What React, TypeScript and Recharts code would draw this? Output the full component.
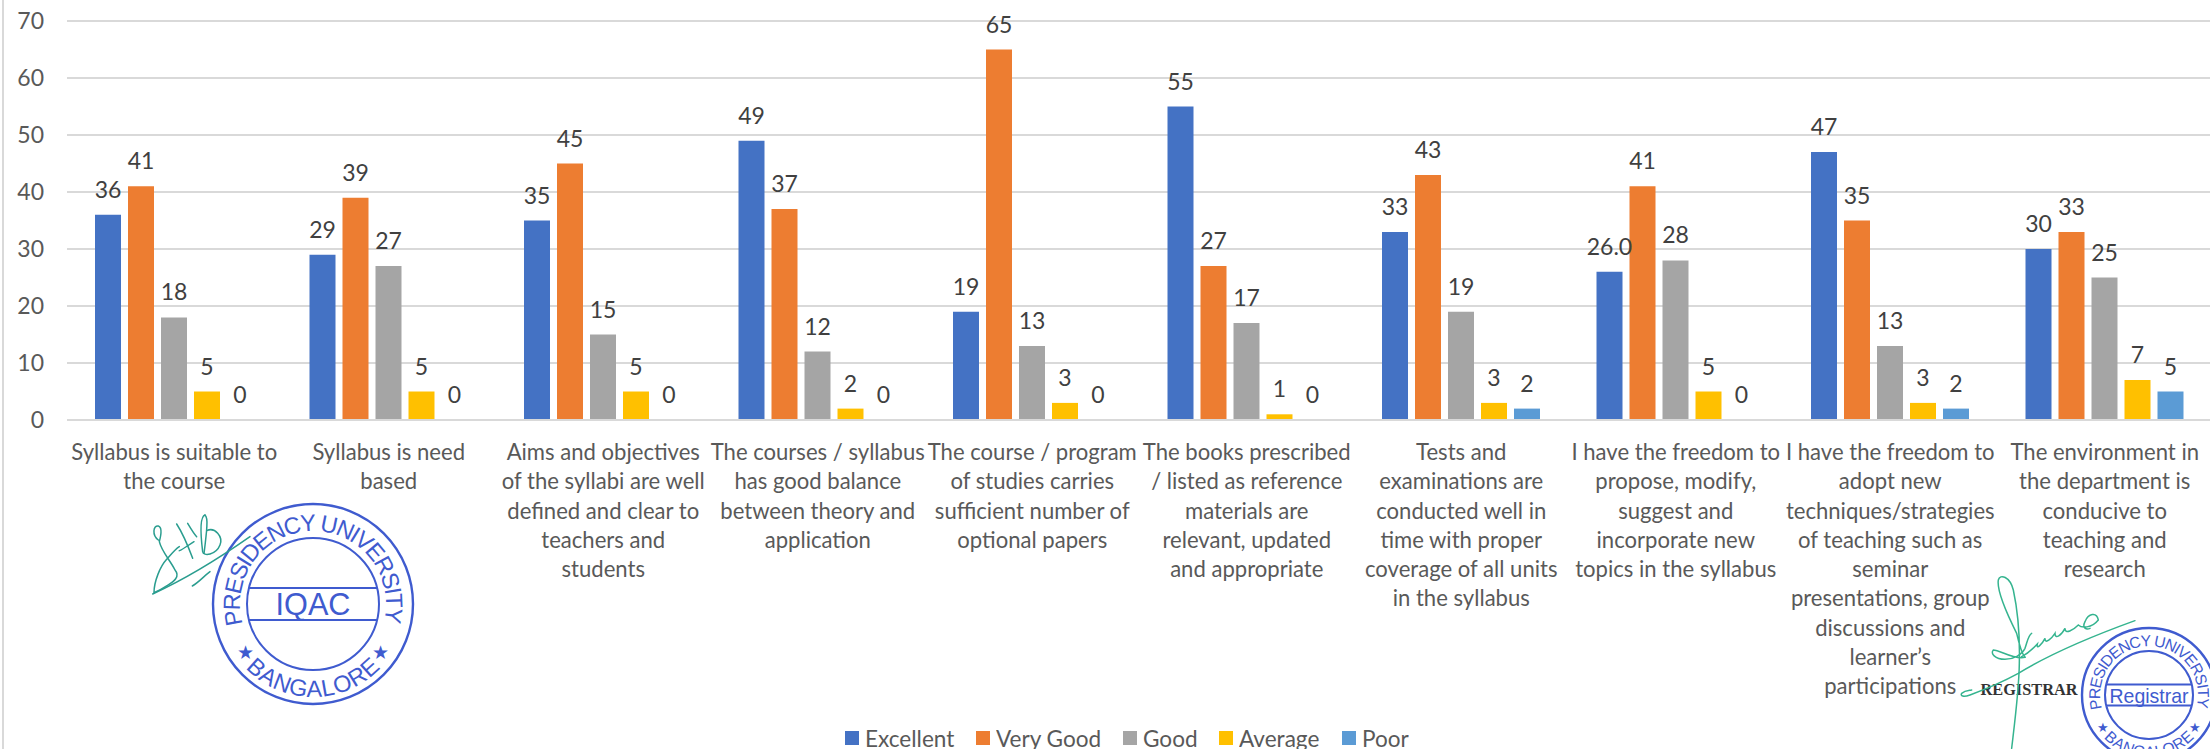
import React from "react";
import { BarChart, Bar, XAxis, YAxis, CartesianGrid, LabelList, Legend } from "recharts";

const categoryLines: string[][] = [
  ["Syllabus is suitable to", "the course"],
  ["Syllabus is need", "based"],
  ["Aims and objectives", "of the syllabi are well", "defined and clear to", "teachers and", "students"],
  ["The courses / syllabus", "has good balance", "between theory and", "application"],
  ["The course / program", "of studies carries", "sufficient number of", "optional papers"],
  ["The books prescribed", "/ listed as reference", "materials are", "relevant, updated", "and appropriate"],
  ["Tests and", "examinations are", "conducted well in", "time with proper", "coverage of all units", "in the syllabus"],
  ["I have the freedom to", "propose, modify,", "suggest and", "incorporate new", "topics in the syllabus"],
  ["I have the freedom to", "adopt new", "techniques/strategies", "of teaching such as", "seminar", "presentations, group", "discussions and", "learner\u2019s", "participations"],
  ["The environment in", "the department is", "conducive to", "teaching and", "research"],
];
const excellent = [36, 29, 35, 49, 19, 55, 33, 26, 47, 30];
const veryGood = [41, 39, 45, 37, 65, 27, 43, 41, 35, 33];
const good = [18, 27, 15, 12, 13, 17, 19, 28, 13, 25];
const average = [5, 5, 5, 2, 3, 1, 3, 5, 3, 7];
const poor = [0, 0, 0, 0, 0, 0, 2, 0, 2, 5];
const excellentLabels = ["36", "29", "35", "49", "19", "55", "33", "26.0", "47", "30"];
const yTicks = [0, 10, 20, 30, 40, 50, 60, 70];
const seriesNames = ["Excellent", "Very Good", "Good", "Average", "Poor"];
const seriesKeys = ["excellent", "veryGood", "good", "average", "poor"];
const seriesValues = [excellent, veryGood, good, average, poor];
const seriesColors = ["#4472c4", "#ed7d31", "#a5a5a5", "#ffc000", "#5b9bd5"];
const legendWidths = [131, 147, 96, 123, 80];

const data = categoryLines.map((lines, i) => {
  const row: any = { name: lines.join(" ") };
  seriesKeys.forEach((k, s) => {
    row[k] = seriesValues[s][i];
    row[k + "Label"] = k === "excellent" ? excellentLabels[i] : String(seriesValues[s][i]);
  });
  return row;
});

const FONT = "Lato, 'Open Sans', sans-serif";
const TEXT = "#595959";
const STAMP = "#3f5bcf";
const FX = 0.94;

function CategoryTick(props: any) {
  const { x, y, index } = props;
  const lines = categoryLines[index] || [];
  return (
    <g transform={`translate(${x},${y}) scale(${FX},1)`}>
      {lines.map((l, i) => (
        <text key={i} x={0} y={38 + i * 29.3} textAnchor="middle" fontFamily={FONT} fontSize={23.5} fill={TEXT}>
          {l}
        </text>
      ))}
    </g>
  );
}

function LegendRow() {
  return (
    <div style={{ position: "absolute", left: 845, top: 724, height: 0, display: "flex", fontFamily: FONT, fontSize: 24, color: TEXT, whiteSpace: "nowrap" }}>
      {seriesNames.map((n, i) => (
        <div key={n} style={{ display: "flex", alignItems: "flex-start", width: legendWidths[i] }}>
          <span style={{ width: 14, height: 14, marginTop: 7, marginRight: 6, background: seriesColors[i], display: "inline-block", flex: "none" }} />
          <span style={{ display: "inline-block", lineHeight: "28px", transform: `scaleX(${FX})`, transformOrigin: "left" }}>{n}</span>
        </div>
      ))}
    </div>
  );
}

function Stamp({ id, cx, cy, r, inner, bandH, label, labelSize, labelLen }: any) {
  const tr = r * 0.73;
  const br = r * 0.93;
  const a = (106 * Math.PI) / 180;
  const c = 2.33;
  const sx = (rad: number, ang: number) => cx + rad * Math.sin(ang);
  const sy = (rad: number, ang: number) => cy - rad * Math.cos(ang);
  const hw = Math.sqrt(inner * inner - (bandH / 2) * (bandH / 2));
  return (
    <g fill="none" stroke={STAMP}>
      <defs>
        <path id={id + "t"} d={`M${sx(tr, -a)} ${sy(tr, -a)} A${tr} ${tr} 0 1 1 ${sx(tr, a)} ${sy(tr, a)}`} />
        <path id={id + "b"} d={`M${sx(br, -c)} ${sy(br, -c)} A${br} ${br} 0 0 0 ${sx(br, c)} ${sy(br, c)}`} />
      </defs>
      <circle cx={cx} cy={cy} r={r} strokeWidth={2.4} />
      <circle cx={cx} cy={cy} r={inner} strokeWidth={2} />
      <line x1={cx - hw} x2={cx + hw} y1={cy - bandH / 2} y2={cy - bandH / 2} strokeWidth={1.8} />
      <line x1={cx - hw} x2={cx + hw} y1={cy + bandH / 2} y2={cy + bandH / 2} strokeWidth={1.8} />
      <g fill={STAMP} stroke="none" fontFamily="'Liberation Sans', Arial, sans-serif">
        <text fontSize={r * 0.235}>
          <textPath href={`#${id}t`} textLength={2 * a * tr * 0.99} lengthAdjust="spacing">PRESIDENCY UNIVERSITY</textPath>
        </text>
        <text fontSize={r * 0.235}>
          <textPath href={`#${id}b`} textLength={(2 * Math.PI - 2 * c) * br} lengthAdjust="spacing">BANGALORE</textPath>
        </text>
        <text x={cx} y={cy + labelSize * 0.36} fontSize={labelSize} textAnchor="middle" textLength={labelLen} lengthAdjust="spacingAndGlyphs">{label}</text>
        <text x={sx(r * 0.84, -2.2)} y={sy(r * 0.84, -2.2) + r * 0.06} fontSize={r * 0.19} textAnchor="middle">{"\u2605"}</text>
        <text x={sx(r * 0.84, 2.2)} y={sy(r * 0.84, 2.2) + r * 0.06} fontSize={r * 0.19} textAnchor="middle">{"\u2605"}</text>
      </g>
    </g>
  );
}

function Overlay() {
  return (
    <svg width={2210} height={749} style={{ position: "absolute", left: 0, top: 0, pointerEvents: "none" }}>
      <line x1={3} x2={3} y1={0} y2={749} stroke="#d9d9d9" strokeWidth={2} />
      <Stamp id="s1" cx={313} cy={604} r={100} inner={66} bandH={32} label="IQAC" labelSize={31} labelLen={75} />
      <Stamp id="s2" cx={2149} cy={695} r={67} inner={44} bandH={21} label="Registrar" labelSize={21} labelLen={79} />
      <g transform="translate(140,510) scale(0.3333)" fill="none" stroke="#2a9d8f" strokeWidth={4.5} strokeLinecap="round">
        <path d="M55 90 C35 75 40 45 55 48 C68 52 62 80 58 95 C65 125 90 150 105 180 C122 200 100 215 85 225 C70 235 55 243 42 248 C42 215 60 170 80 148 C92 135 105 118 118 110" />
        <path d="M110 42 C125 65 145 110 158 145" />
        <path d="M118 122 C130 118 145 105 162 95" />
        <path d="M143 40 C155 60 165 75 170 80" />
        <path d="M195 15 C180 20 180 60 188 125 C190 140 228 135 240 105 C250 80 225 50 200 62" />
        <path d="M195 15 C205 25 200 45 200 60 C197 90 195 110 192 130" />
        <path d="M38 252 C130 210 230 150 330 80" />
        <path d="M157 228 C175 218 190 200 210 185" />
      </g>
      <text x={1980.5} y={695} fontFamily="'Liberation Serif', serif" fontWeight="bold" fontSize={17} fill="#333" textLength={97} lengthAdjust="spacingAndGlyphs">REGISTRAR</text>
      <g transform="translate(1950,570) scale(0.3333)" fill="none" stroke="#35b48f" strokeWidth={4.5} strokeLinecap="round">
        <path d="M185 535 C195 450 207 360 208 280 C210 200 205 130 190 60 C180 20 150 10 145 30 C140 60 170 130 200 190 C208 225 215 250 225 262" />
        <path d="M225 262 C190 270 150 240 130 240 C120 250 135 268 165 268 C190 268 215 255 225 235 C232 215 235 195 245 190" />
        <path d="M215 260 C235 250 250 235 262 222 C258 240 275 225 285 205 C285 225 305 205 315 190 C315 210 335 195 345 175 C345 195 370 180 385 165 C395 175 425 175 445 150 C440 125 415 130 405 155 C395 175 410 180 420 175" />
        <path d="M555 152 C450 190 320 240 205 310 C150 340 100 360 60 375 C40 382 30 378 35 370 C45 362 55 362 65 360" />
      </g>
    </svg>
  );
}

export default function App() {
  return (
    <div style={{ position: "absolute", left: 0, top: 0, width: 2210, height: 749, overflow: "hidden", background: "#fff" }}>
      <BarChart
        width={2212}
        height={749}
        data={data}
        margin={{ top: 21, right: 0, bottom: 0, left: 0 }}
        barCategoryGap={28}
        barGap={7}
      >
        <CartesianGrid vertical={false} stroke="#d9d9d9" strokeWidth={2} />
        <XAxis
          dataKey="name"
          interval={0}
          height={329}
          tickLine={false}
          tickSize={0}
          axisLine={{ stroke: "#d9d9d9", strokeWidth: 2 }}
          tick={<CategoryTick />}
        />
        <YAxis
          width={67}
          domain={[0, 70]}
          ticks={yTicks}
          axisLine={false}
          tickLine={false}
          tickSize={0}
          tickMargin={23}
          tick={{ fontFamily: FONT, fontSize: 23, fill: TEXT }}
        />
        <Legend content={<LegendRow />} wrapperStyle={{ position: "absolute", left: 0, top: 0, width: 0, height: 0 }} />
        {seriesKeys.map((k, i) => (
          <Bar key={k} dataKey={k} name={seriesNames[i]} fill={seriesColors[i]} minPointSize={0.01} isAnimationActive={false}>
            <LabelList
              dataKey={k + "Label"}
              position="top"
              offset={17}
              fontFamily={FONT}
              fontSize={23}
              fill="#404040"
            />
          </Bar>
        ))}
      </BarChart>
      <Overlay />
    </div>
  );
}
